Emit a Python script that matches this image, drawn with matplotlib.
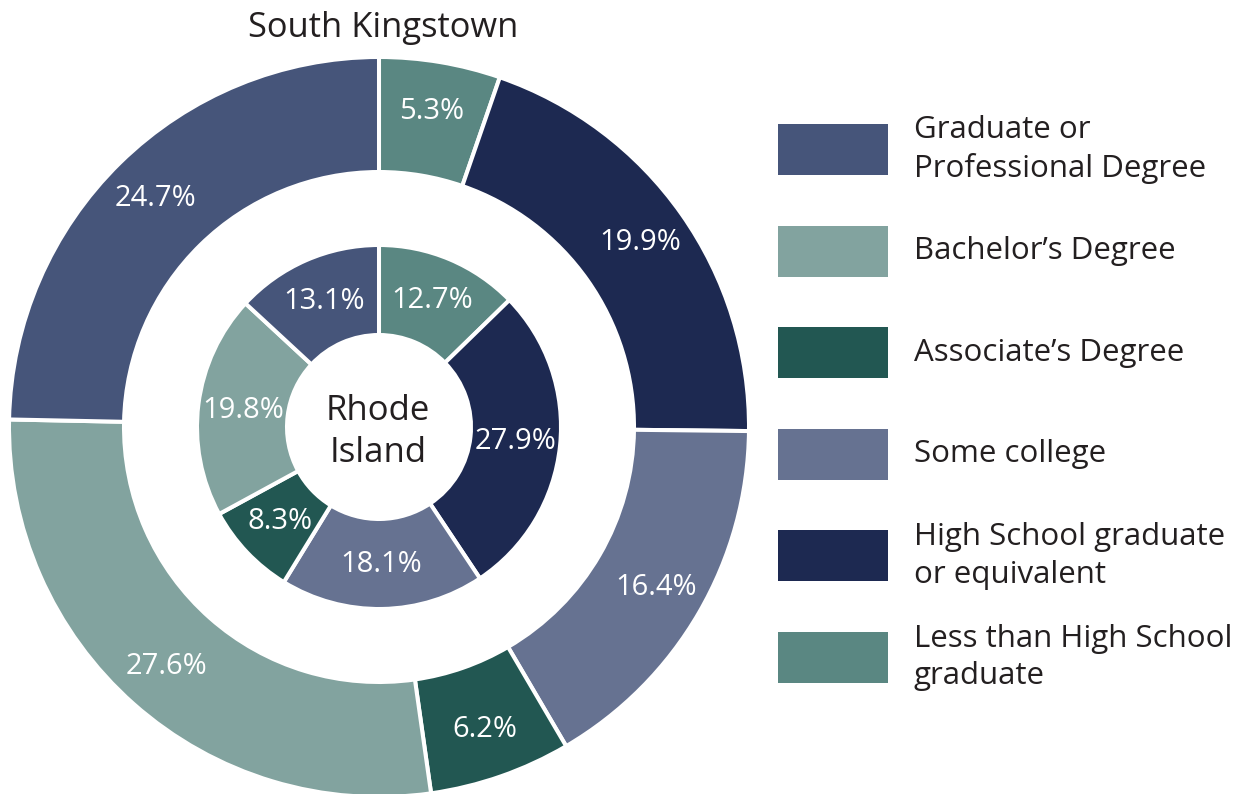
import matplotlib
matplotlib.use("Agg")
import matplotlib.pyplot as plt
from matplotlib.patches import Rectangle

plt.rcParams['font.family'] = ['Open Sans', 'DejaVu Sans']

# Data (clockwise from top)
categories = ["Less than High School graduate", "High School graduate or equivalent",
              "Some college", "Associate's Degree", "Bachelor's Degree",
              "Graduate or Professional Degree"]
south_kingstown = [5.3, 19.9, 16.4, 6.2, 27.6, 24.7]
rhode_island = [12.7, 27.9, 18.1, 8.3, 19.8, 13.1]
colors = ["#5A8782", "#1D2951", "#667291", "#225752", "#82A39F", "#46557A"]

legend_labels = ["Graduate or\nProfessional Degree", "Bachelor\u2019s Degree",
                 "Associate\u2019s Degree", "Some college",
                 "High School graduate\nor equivalent", "Less than High School\ngraduate"]
legend_colors = ["#46557A", "#82A39F", "#225752", "#667291", "#1D2951", "#5A8782"]

W, H = 1244, 794
fig = plt.figure(figsize=(W / 100, H / 100), dpi=100)
ax = fig.add_axes([0, 0, 1, 1])

cx, cy = 379, 367
text_color = "#231F20"

it_out = iter(south_kingstown)
ax.pie(south_kingstown, radius=370, center=(cx, cy), startangle=90, counterclock=False,
       colors=colors, wedgeprops=dict(width=115, edgecolor='white', linewidth=2.9),
       autopct=lambda p: f"{next(it_out):.1f}%", pctdistance=0.865,
       textprops=dict(color='white', fontsize=21))

it_in = iter(rhode_island)
ax.pie(rhode_island, radius=182, center=(cx, cy), startangle=90, counterclock=False,
       colors=colors, wedgeprops=dict(width=90, edgecolor='white', linewidth=2.9),
       autopct=lambda p: f"{next(it_in):.1f}%", pctdistance=0.753,
       textprops=dict(color='white', fontsize=21))

ax.text(cx - 1, cy - 5, "Rhode\nIsland", ha='center', va='center', fontsize=25,
        color=text_color, linespacing=1.33)
ax.text(383, H - 28, "South Kingstown", ha='center', va='center', fontsize=24.8, color=text_color)

# Legend
for i, (lab, col) in enumerate(zip(legend_labels, legend_colors)):
    yc = H - (149.5 + i * 101.6)
    ax.add_patch(Rectangle((778, yc - 25.5), 110, 51, facecolor=col, edgecolor='none'))
    ax.text(914, yc, lab, ha='left', va='center', fontsize=22.5, color=text_color,
            linespacing=1.32)

ax.set_xlim(0, W)
ax.set_ylim(0, H)
ax.set_aspect('equal')
ax.axis('off')

fig.savefig("out.png", dpi=100, facecolor='white')
